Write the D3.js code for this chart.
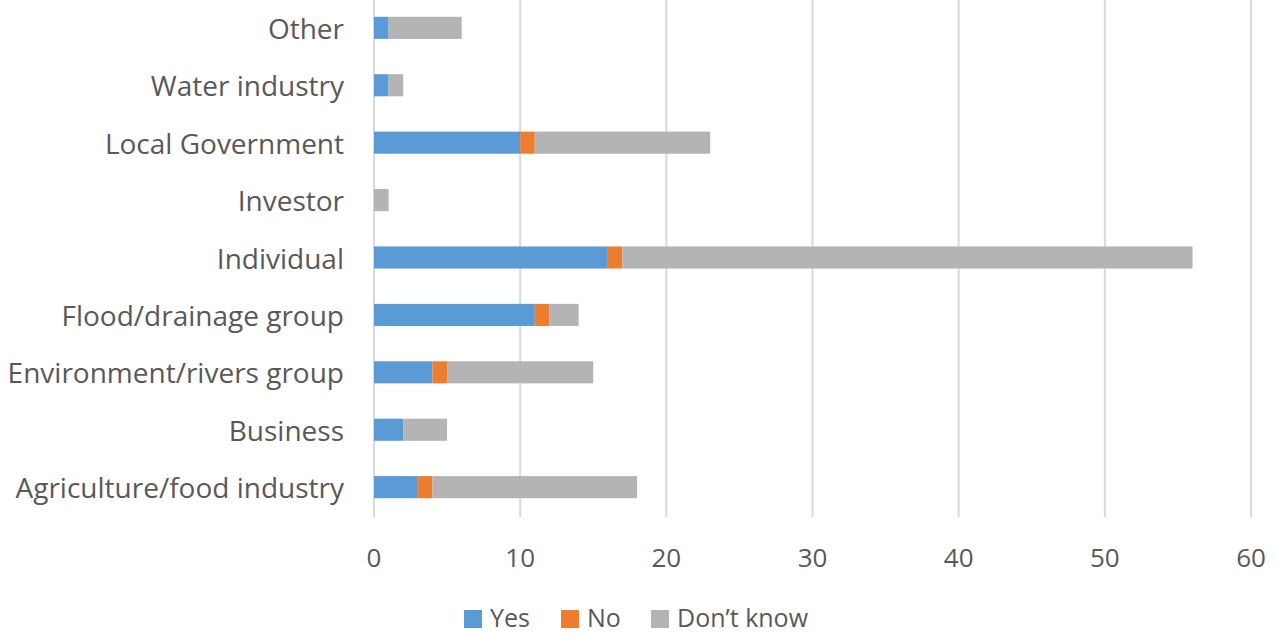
<!DOCTYPE html>
<html><head><meta charset="utf-8">
<script src="https://cdn.jsdelivr.net/npm/d3@7"></script>
<style>body{margin:0;background:#fff;}svg{display:block;}</style>
</head><body>
<svg id="c" width="1277" height="635"></svg>
<script>
const categories = ["Other","Water industry","Local Government","Investor","Individual","Flood/drainage group","Environment/rivers group","Business","Agriculture/food industry"];
const seriesNames = ["Yes","No","Don\u2019t know"];
const yesValues = [1,1,10,0,16,11,4,2,3];
const noValues = [0,0,1,0,1,1,1,0,1];
const dontKnowValues = [5,1,12,1,39,2,10,3,14];
const xTicks = [0,10,20,30,40,50,60];
const colors = ["#5B9BD5","#ED7D31","#B4B4B4"];

(function(){
const svg = d3.select("#c");
const FONT = "'Open Sans', sans-serif";
const pLeft = 374, pRight = 1251, pTop = 0, pBottom = 517;
const x = d3.scaleLinear().domain([0,60]).range([pLeft,pRight]);
const y = d3.scaleBand().domain(categories).range([-1,516]).paddingInner(0.615).paddingOuter(0.31);

const rows = categories.map((c,i)=>({cat:c, Yes:yesValues[i], No:noValues[i], "Don\u2019t know":dontKnowValues[i]}));
const stacked = d3.stack().keys(seriesNames)(rows);

svg.append("g").selectAll("line").data(xTicks).join("line")
  .attr("x1",d=>x(d)).attr("x2",d=>x(d)).attr("y1",pTop).attr("y2",pBottom)
  .attr("stroke","#D9D9D9").attr("stroke-width",2);

svg.append("g").selectAll("g").data(stacked).join("g")
  .attr("fill",(d,i)=>colors[i])
  .selectAll("rect").data(d=>d).join("rect")
  .attr("x",d=>x(d[0])).attr("width",d=>x(d[1])-x(d[0]))
  .attr("y",d=>y(d.data.cat)).attr("height",y.bandwidth());

svg.append("g").selectAll("text").data(xTicks).join("text")
  .attr("x",d=>x(d)).attr("y",557).attr("text-anchor","middle").attr("dominant-baseline","central")
  .attr("font-family",FONT).attr("font-size",26).attr("fill","#595959").text(d=>d);

svg.append("g").selectAll("text").data(categories).join("text")
  .attr("x",344).attr("y",d=>y(d)+y.bandwidth()/2).attr("text-anchor","end").attr("dominant-baseline","central")
  .attr("font-family",FONT).attr("font-size",28).attr("fill","#595959").text(d=>d);

const legX = [464,561,651];
const lg = svg.append("g").selectAll("g").data(seriesNames).join("g")
  .attr("transform",(d,i)=>`translate(${legX[i]},617)`);
lg.append("rect").attr("x",0).attr("y",-7).attr("width",18).attr("height",18).attr("fill",(d,i)=>colors[i]);
lg.append("text").attr("x",26).attr("y",0).attr("dominant-baseline","central")
  .attr("font-family",FONT).attr("font-size",25).attr("fill","#595959").text(d=>d);
})();
</script>
</body></html>
